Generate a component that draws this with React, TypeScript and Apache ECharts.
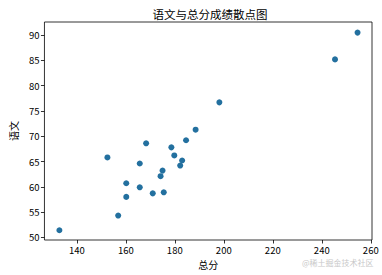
import React, { useEffect, useRef } from "react";
import * as echarts from "echarts";

const title = "语文与总分成绩散点图";
const xName = "总分";
const yName = "语文";
const totalScores = [132.9, 152.5, 156.9, 160.2, 160.2, 165.7, 165.7, 168.3, 171.0, 174.2, 175.0, 175.5, 178.6, 179.8, 182.2, 183.0, 184.6, 188.5, 198.2, 245.4, 254.6];
const chineseScores = [51.4, 65.8, 54.3, 60.7, 58.0, 64.6, 59.9, 68.6, 58.7, 62.1, 63.2, 58.9, 67.8, 66.2, 64.2, 65.2, 69.2, 71.3, 76.7, 85.2, 90.5];
const xTicks = [140, 160, 180, 200, 220, 240, 260];
const yTicks = [50, 55, 60, 65, 70, 75, 80, 85, 90];
const watermark = "@稀土掘金技术社区";

const FONT = "'Noto Sans CJK SC', 'DejaVu Sans', sans-serif";

export default function App() {
  const ref = useRef<HTMLDivElement>(null);
  useEffect(() => {
    if (!ref.current) return;
    const chart = echarts.init(ref.current, null, { renderer: "svg" });
    const axisCommon = {
      type: "value" as const,
      nameLocation: "middle" as const,
      nameTextStyle: { color: "#000", fontSize: 10, fontFamily: FONT },
      axisLine: { show: false },
      axisTick: { show: true, inside: false, length: 3.5, lineStyle: { color: "#000", width: 0.8 } },
      axisLabel: { color: "#000", fontSize: 9.5, fontFamily: FONT },
      splitLine: { show: false },
    };
    chart.setOption({
      animation: false,
      backgroundColor: "#fff",
      title: {
        text: title,
        left: 205,
        textAlign: "center",
        top: 3,
        textStyle: { fontSize: 11.5, fontWeight: "normal", color: "#000", fontFamily: FONT },
      },
      grid: {
        left: 38,
        right: 10,
        top: 22,
        bottom: 35,
        show: true,
        borderColor: "#000",
        borderWidth: 0.8,
        backgroundColor: "#fff",
      },
      xAxis: {
        ...axisCommon,
        name: xName,
        nameGap: 16,
        min: 126.8,
        max: 260.5,
        axisTick: { ...axisCommon.axisTick, customValues: xTicks },
        axisLabel: { ...axisCommon.axisLabel, customValues: xTicks, margin: 5 },
      },
      yAxis: {
        ...axisCommon,
        name: yName,
        nameGap: 26,
        min: 49.47,
        max: 92.6,
        axisTick: { ...axisCommon.axisTick, customValues: yTicks },
        axisLabel: { ...axisCommon.axisLabel, customValues: yTicks, margin: 5 },
      },
      series: [
        {
          type: "scatter",
          symbolSize: 6,
          itemStyle: { color: "#23709f", opacity: 1 },
          data: totalScores.map((x, i) => [x, chineseScores[i]]),
        },
      ],
      graphic: [
        {
          type: "text",
          left: 302,
          top: 258,
          style: { text: watermark, fill: "#c8c8c8", fontSize: 8, fontFamily: FONT },
        },
      ],
    });
    return () => chart.dispose();
  }, []);
  return (
    <div
      ref={ref}
      style={{ position: "absolute", left: 0, top: 0, width: 382, height: 275 }}
    />
  );
}
